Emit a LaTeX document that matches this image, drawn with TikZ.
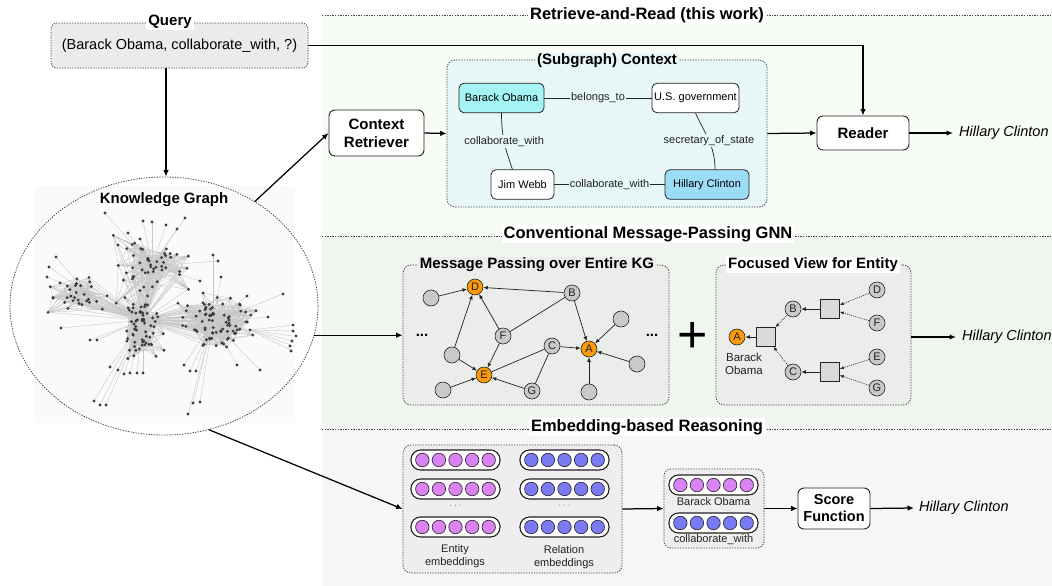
\documentclass[tikz,border=0pt]{standalone}
\usepackage{fontspec}
\setmainfont{Liberation Sans}
\usetikzlibrary{shapes.geometric,arrows.meta,calc}

\definecolor{topbg}{HTML}{F7FCF5}
\definecolor{midbg}{HTML}{F1F5F0}
\definecolor{botbg}{HTML}{F6F6F6}
\definecolor{qfill}{HTML}{EBEBEB}
\definecolor{sgfill}{HTML}{E7F6F7}
\definecolor{obama}{HTML}{A4F4F6}
\definecolor{hillary}{HTML}{9BDCF7}
\definecolor{mpfill}{HTML}{EBEDEA}
\definecolor{gnodec}{HTML}{C9C9C9}
\definecolor{onodec}{HTML}{FA9A0A}
\definecolor{sqfill}{HTML}{D9D9D9}
\definecolor{embfill}{HTML}{EEEEEE}
\definecolor{entc}{HTML}{D983F5}
\definecolor{relc}{HTML}{7A7AF4}
\definecolor{kgbg}{HTML}{FAFAFA}
\definecolor{kgedge}{HTML}{C8C8C8}
\definecolor{kgdot}{HTML}{3C3C3C}
\definecolor{dotline}{HTML}{444444}
\definecolor{inkc}{HTML}{222222}

\tikzset{
  dotln/.style={draw=dotline, line width=0.8pt, dash pattern=on 1.3pt off 1.3pt},
  sectitle/.style={font={\fontsize{16.5}{19}\selectfont\bfseries}, fill=white, inner xsep=2pt, inner ysep=1pt},
  boxtitle/.style={font={\fontsize{15}{17}\selectfont\bfseries}, inner xsep=2pt, inner ysep=1pt},
  groupbox/.style={dotln, rounded corners=8pt},
  procbox/.style={draw=inkc, line width=0.9pt, rounded corners=6pt, fill=white, align=center,
    font={\fontsize{15}{18}\selectfont\bfseries}, inner sep=0pt},
  ent/.style={draw=inkc, line width=0.8pt, rounded corners=5pt, inner sep=0pt, minimum height=29.5pt,
    font={\fontsize{11}{13}\selectfont}},
  elab/.style={font={\fontsize{11}{13}\selectfont}, fill=sgfill, inner xsep=1pt, inner ysep=1.5pt, text=inkc},
  arr/.style={draw=black, line width=1.25pt, -{Latex[length=6.5pt,width=5.5pt]}},
  answer/.style={font={\fontsize{14.5}{17}\selectfont\itshape}, anchor=west, inner sep=0pt},
  gnode/.style={circle, draw=inkc, line width=0.6pt, fill=gnodec, minimum size=16pt, inner sep=0pt,
    font={\fontsize{11}{13}\selectfont}, text=inkc},
  onode/.style={gnode, fill=onodec},
  sqnode/.style={draw=inkc, line width=0.6pt, fill=sqfill, minimum size=19pt, inner sep=0pt},
  garr/.style={draw=inkc, line width=0.7pt, -{Latex[length=4.5pt,width=3.8pt]}},
  gln/.style={draw=inkc, line width=0.7pt},
  darr/.style={draw=inkc, line width=0.6pt, dash pattern=on 1pt off 1pt, -{Latex[length=4pt,width=3.2pt]}},
  capsule/.style={draw=inkc, line width=1.1pt, fill=white, rounded corners=9.5pt, minimum width=89pt,
    minimum height=20pt, inner sep=0pt},
  bead/.style={circle, draw=inkc, line width=0.6pt, minimum size=13.5pt, inner sep=0pt},
  small/.style={font={\fontsize{11}{13}\selectfont}, text=inkc, align=center, inner sep=0pt},
  kgline/.style={draw=kgedge, line width=0.4pt},
}

% one row of embedding beads inside a capsule: name, x, y, colour
\newcommand\embrow[4]{%
  \node[capsule] (#1) at (#2,#3) {};
  \foreach \k in {-2,...,2}{\node[bead, fill=#4] (#1-\k) at ($(#1)+(\k*16.6,0)$) {};}
}

\begin{document}
\begin{tikzpicture}[x=1pt,y=-1pt]
\useasboundingbox (0,0) rectangle (1052,586);

% ---------- panel backgrounds ----------
\fill[topbg] (322,15) rectangle (1052,236);
\fill[midbg] (322,236) rectangle (1052,429);
\fill[botbg] (322,429) rectangle (1052,586);
\draw[dotln] (322,15) -- (1052,15);
\draw[dotln] (322,236) -- (1052,236);
\draw[dotln] (322,429) -- (1052,429);
\node[sectitle] (t1) at (647,15) {Retrieve-and-Read (this work)};
\node[sectitle] (t2) at (648,234) {Conventional Message-Passing GNN};
\node[sectitle] (t3) at (647,427) {Embedding-based Reasoning};

% ---------- query ----------
\node[groupbox, fill=qfill, minimum width=257pt, minimum height=45pt, rounded corners=6pt,
      font={\fontsize{14.5}{17}\selectfont}] (q) at (179.5,45.5) {(Barack Obama, collaborate\_with, ?)};
\node[boxtitle, fill=white] (qt) at (170,22) {Query};

% ---------- knowledge graph ----------
\fill[kgbg] (35,186) rectangle (295,423);
\coordinate (hubc) at (143,320);
\coordinate (hubr) at (213,322);
\coordinate (hubt) at (152,266);
\coordinate (hubl) at (86,292);
\pgfmathsetseed{2024}
\foreach \cl/\cx/\cy/\sx/\sy/\cnt in {c/137/327/15/21/60, l/84/293/18/11/30, t/152/268/24/18/48, r/212/320/25/20/80}{
  \foreach \i in {1,...,\cnt}{
    \pgfmathsetmacro\px{\cx+\sx*(rand+rand+rand)*0.75}
    \pgfmathsetmacro\py{\cy+\sy*(rand+rand+rand)*0.75}
    \coordinate (kg\cl\i) at (\px,\py);
  }
}
\foreach \cl/\cnt/\hub in {c/60/hubc, l/30/hubl, t/48/hubt, r/80/hubr}{
  \foreach \i in {1,...,\cnt}{
    \pgfmathrandominteger{\ja}{1}{\cnt}
    \pgfmathrandominteger{\jb}{1}{\cnt}
    \pgfmathrandominteger{\jc}{1}{\cnt}
    \pgfmathrandominteger{\jd}{1}{\cnt}
    \draw[kgline] (kg\cl\i) -- (kg\cl\ja) (kg\cl\i) -- (kg\cl\jb) (kg\cl\i) -- (kg\cl\jc)
      (kg\cl\i) -- (kg\cl\jd) (kg\cl\i) -- (\hub);
  }
}
\foreach \i in {1,...,30}{\draw[kgline] (kgl\i) -- (hubc);}
\foreach \i in {1,...,48}{\draw[kgline] (kgt\i) -- (hubc);}
\foreach \i in {1,...,80}{
  \pgfmathtruncatemacro\flag{rnd<0.5}
  \ifnum\flag=1 \draw[kgline] (kgr\i) -- (hubc);\fi
}
\foreach \i in {1,...,12}{\draw[kgline] (hubc) -- (hubr) (hubc) -- (hubt) (hubc) -- (hubl);}
\foreach \ox/\oy/\tg in {105/213/hubt, 143/221/hubt, 152/222/hubt, 166/225/hubt, 185/218/hubt,
    177/229/hubt, 128/233/hubt, 140/239/hubt, 118/245/hubt,
    56/257/hubl, 49/267/hubl, 47/277/hubl, 60/283/hubl, 61/328/hubc,
    213/255/hubr, 218/261/hubt, 200/281/hubt, 221/277/hubr, 247/296/hubr, 283/294/hubr,
    268/317/hubr, 250/330/hubr, 260/370/hubr, 237/365/hubr,
    94/401/hubc, 100/405/hubc, 106/405/hubc, 110/367/hubc, 118/370/hubc, 124/374/hubc,
    130/373/hubc, 137/373/hubc, 143/373/hubc, 90/340/hubc, 97/340/hubc,
    193/403/hubr, 200/402/hubr, 188/414/hubr, 184/365/hubr, 190/371/hubr, 196/371/hubr}{
  \draw[kgline] (\ox,\oy) -- (\tg);
}
\foreach \oy in {325,331,336,341,346,351}{\draw[kgline] (293,\oy) -- (250,330);}
\foreach \cl/\cnt in {c/60, l/30, t/48, r/80}{
  \foreach \i in {1,...,\cnt}{\fill[kgdot] (kg\cl\i) circle[radius=1.6pt];}
}
\foreach \ox/\oy in {105/213, 143/221, 152/222, 166/225, 185/218, 177/229, 128/233, 140/239, 118/245,
    56/257, 49/267, 47/277, 60/283, 61/328, 213/255, 218/261, 200/281, 221/277, 247/296, 283/294,
    268/317, 250/330, 260/370, 237/365, 94/401, 100/405, 106/405, 110/367, 118/370, 124/374,
    130/373, 137/373, 143/373, 90/340, 97/340, 193/403, 200/402, 188/414, 184/365, 190/371, 196/371,
    293/325, 293/331, 296/336, 292/341, 290/346, 291/351}{
  \fill[kgdot] (\ox,\oy) circle[radius=1.6pt];
}
\fill[kgdot] (hubc) circle[radius=2.3pt];
\node[ellipse, dotln, minimum width=308pt, minimum height=258pt, inner sep=0pt] (kg) at (164,306) {};
\node[boxtitle, fill=white] (kgt) at (164,200) {Knowledge Graph};
\draw[arr] (q.south -| 166,0) -- (kg.north -| 166,0);

% ---------- retrieve-and-read ----------
\node[procbox, minimum width=95pt, minimum height=46pt] (cr) at (376.5,133) {Context\\Retriever};
\node[groupbox, fill=sgfill, minimum width=320pt, minimum height=147pt] (sg) at (607,133.5) {};
\node[boxtitle, fill=sgfill] (sgt) at (607,61) {(Subgraph) Context};
\node[ent, fill=obama, minimum width=85pt] (bo) at (501.5,98) {Barack Obama};
\node[ent, fill=white, minimum width=87pt] (us) at (695.5,98) {U.S. government};
\node[ent, fill=white, minimum width=63pt] (jw) at (522.5,184.5) {Jim Webb};
\node[ent, fill=hillary, minimum width=84pt] (hc) at (707,184.5) {Hillary Clinton};
\draw[gln] (bo) -- node[elab] {belongs\_to} (us);
\draw[gln] (bo.south) to[out=-90, in=110] node[elab, pos=0.5] {collaborate\_with} ([xshift=-10pt]jw.north);
\draw[gln] (us.south) to[out=-65, in=90] node[elab, pos=0.5] {secretary\_of\_state} ([xshift=8pt]hc.north);
\draw[gln] (jw) -- node[elab] {collaborate\_with} (hc);
\node[procbox, minimum width=92pt, minimum height=34pt] (rd) at (863,133) {Reader};
\node[answer] (a1) at (959,133) {Hillary Clinton};
\draw[arr] (kg.49) -- (cr.west);
\draw[arr] (cr.east) -- (sg.west);
\draw[arr] (sg.east) -- (rd.west);
\draw[arr] (rd.east) -- ([xshift=-6pt]a1.west);
\draw[arr] (q.east) -- (q.east -| rd.north) -- (rd.north);

% ---------- conventional message passing ----------
\node[groupbox, fill=mpfill, minimum width=266pt, minimum height=140pt] (mp) at (536,335) {};
\node[boxtitle, fill=mpfill] (mpt) at (537,265) {Message Passing over Entire KG};
\node[onode] (mD) at (475,287) {D};
\node[gnode] (mB) at (572,293) {B};
\node[gnode] (mF) at (503,336) {F};
\node[gnode] (mC) at (552,346) {C};
\node[onode] (mA) at (589,349) {A};
\node[onode] (mE) at (484,375) {E};
\node[gnode] (mG) at (532,391) {G};
\node[gnode] (m1) at (431,298) {};
\node[gnode] (m2) at (452,355) {};
\node[gnode] (m3) at (443,390) {};
\node[gnode] (m4) at (621,319) {};
\node[gnode] (m5) at (637,364) {};
\node[gnode] (m6) at (589,392) {};
\draw[garr] (m1) -- (mD);
\draw[garr] (mB) -- (mD);
\draw[garr] (mF) -- (mD);
\draw[gln] (mF) -- (mB);
\draw[garr] (m2) -- (mD);
\draw[garr] (m2) -- (mE);
\draw[garr] (mF) -- (mE);
\draw[gln] (mE) -- (mC);
\draw[gln] (mC) -- (mG);
\draw[garr] (mG) -- (mE);
\draw[garr] (m3) -- (mE);
\draw[garr] (mB) -- (mA);
\draw[garr] (mC) -- (mA);
\draw[garr] (m4) -- (mA);
\draw[garr] (m5) -- (mA);
\draw[garr] (m6) -- (mA);
\node[font={\fontsize{15}{17}\selectfont\bfseries}] (dl) at (422,335) {...};
\node[font={\fontsize{15}{17}\selectfont\bfseries}] (dr) at (652,335) {...};
\node[font={\fontsize{52}{52}\selectfont}, inner sep=0pt] (plus) at (693,337) {+};

\node[groupbox, fill=mpfill, minimum width=195pt, minimum height=140pt] (fv) at (813.5,335) {};
\node[boxtitle, fill=white] (fvt) at (813,265) {Focused View for Entity};
\node[onode] (fA) at (737,337) {A};
\node[sqnode] (s1) at (766,337) {};
\node[gnode] (fB) at (793,309) {B};
\node[gnode] (fC) at (793,372) {C};
\node[sqnode] (s2) at (830,309) {};
\node[sqnode] (s3) at (830,372) {};
\node[gnode] (fD) at (877,290) {D};
\node[gnode] (fF) at (877,323) {F};
\node[gnode] (fE) at (877,357) {E};
\node[gnode] (fG) at (877,388) {G};
\node[small, font={\fontsize{11.5}{13}\selectfont}] (fAl) at (744,363.5) {Barack\\Obama};
\draw[garr] (s1) -- (fA);
\draw[darr] (fB) -- (s1);
\draw[darr] (fC) -- (s1);
\draw[garr] (s2) -- (fB);
\draw[garr] (s3) -- (fC);
\draw[darr] (fD) -- (s2);
\draw[darr] (fF) -- (s2);
\draw[darr] (fE) -- (s3);
\draw[darr] (fG) -- (s3);
\node[answer] (a2) at (962,337) {Hillary Clinton};
\draw[arr] (kg.-11) -- (kg.-11 -| mp.west);
\draw[arr] (fv.east |- a2.west) -- ([xshift=-6pt]a2.west);

% ---------- embedding-based reasoning ----------
\node[groupbox, fill=embfill, minimum width=219pt, minimum height=128pt] (emb) at (512.5,509) {};
\embrow{e1}{455.5}{460}{entc}
\embrow{e2}{455.5}{489}{entc}
\embrow{e3}{455.5}{527}{entc}
\embrow{r1}{564.5}{460}{relc}
\embrow{r2}{564.5}{489}{relc}
\embrow{r3}{564.5}{527}{relc}
\node[small, text=gray] (ed) at (455.5,506) {$\cdots$};
\node[small, text=gray] (rdots) at (564.5,506) {$\cdots$};
\node[small] (el) at (455,556) {Entity\\embeddings};
\node[small] (rl) at (564,557) {Relation\\embeddings};

\node[groupbox, fill=embfill, minimum width=100pt, minimum height=79pt, rounded corners=7pt] (qe) at (714,508.5) {};
\embrow{qb}{713.5}{485}{entc}
\embrow{qr}{713.5}{523}{relc}
\node[small] (qbl) at (713.5,501.5) {Barack Obama};
\node[small] (qrl) at (713.5,540) {collaborate\_with};

\node[procbox, minimum width=72pt, minimum height=41pt, font={\fontsize{14.5}{17}\selectfont\bfseries}] (sf) at (834,508.5) {Score\\Function};
\node[answer] (a3) at (919,508) {Hillary Clinton};
\draw[arr] (kg.-70) -- (emb.west);
\draw[arr] (emb.east) -- (qe.west);
\draw[arr] (qe.east) -- (sf.west);
\draw[arr] (sf.east) -- ([xshift=-5pt]a3.west);
\end{tikzpicture}
\end{document}
